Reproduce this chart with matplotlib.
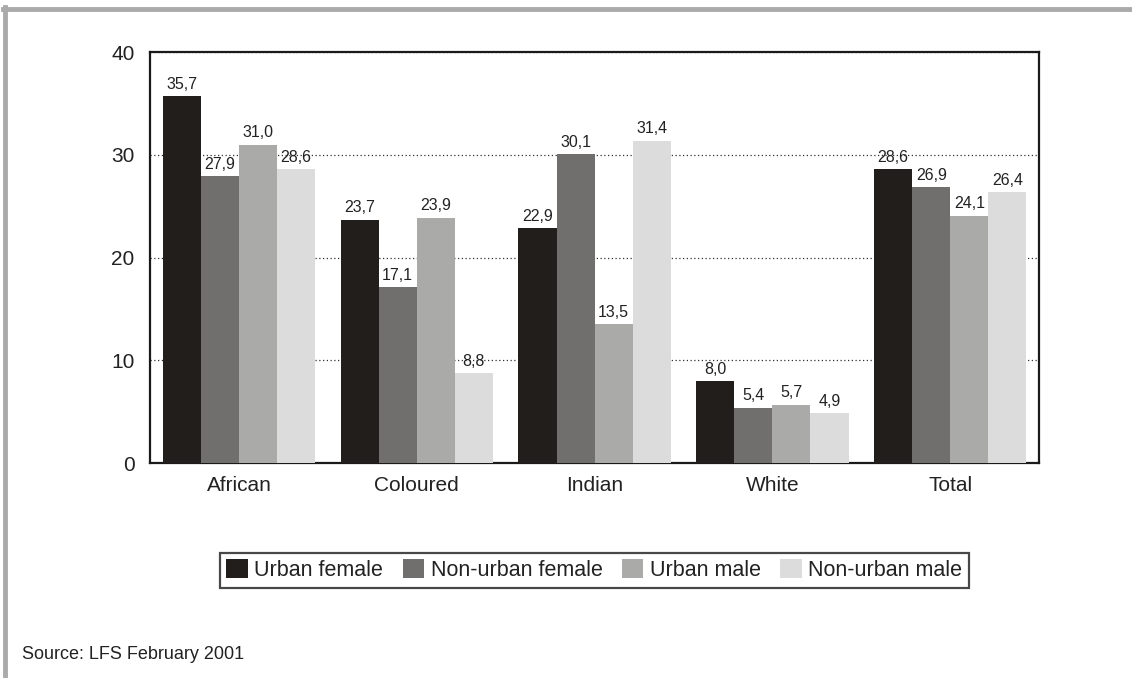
import matplotlib
matplotlib.use("Agg")
import matplotlib.pyplot as plt
from matplotlib.lines import Line2D
import numpy as np

plt.rcParams['font.family'] = ['Liberation Sans', 'DejaVu Sans']

categories = ["African", "Coloured", "Indian", "White", "Total"]
series_names = ["Urban female", "Non-urban female", "Urban male", "Non-urban male"]
urban_female = [35.7, 23.7, 22.9, 8.0, 28.6]
nonurban_female = [27.9, 17.1, 30.1, 5.4, 26.9]
urban_male = [31.0, 23.9, 13.5, 5.7, 24.1]
nonurban_male = [28.6, 8.8, 31.4, 4.9, 26.4]
y_ticks = [0, 10, 20, 30, 40]
source_note = "Source: LFS February 2001"

series = [urban_female, nonurban_female, urban_male, nonurban_male]
colors = ["#221e1c", "#706f6d", "#aaaaa9", "#dcdcdc"]

fig = plt.figure(figsize=(11.32, 6.78), dpi=100)
ax = fig.add_axes([0.1325, 0.317, 0.7855, 0.606])

x = np.arange(len(categories))
bw = 0.214
for i, (vals, col, name) in enumerate(zip(series, colors, series_names)):
    pos = x + (i - 1.5) * bw
    bars = ax.bar(pos, vals, width=bw, color=col, label=name, zorder=3)
    for b, v in zip(bars, vals):
        ax.annotate(f"{v:.1f}".replace(".", ","),
                    (b.get_x() + b.get_width() / 2, v),
                    xytext=(0, 3), textcoords="offset points",
                    ha="center", va="bottom", fontsize=11.5, color="#222222")

ax.set_xlim(-0.5, len(categories) - 0.5)
ax.set_ylim(0, 40)
ax.set_yticks(y_ticks)
ax.set_xticks(x)
ax.set_xticklabels(categories)
ax.tick_params(axis="both", length=0, labelsize=15, colors="#222222")
ax.tick_params(axis="y", pad=11)
ax.tick_params(axis="x", pad=9)
ax.yaxis.grid(True, linestyle=(0, (1, 2)), color="#333333", linewidth=0.9, zorder=0)
ax.set_axisbelow(True)
for s in ax.spines.values():
    s.set_linewidth(1.6)
    s.set_color("#1a1a1a")

leg = fig.legend(loc="center", bbox_to_anchor=(0.525, 0.159), ncol=4,
                 fontsize=15.5, frameon=True, fancybox=False,
                 handlelength=1.0, handleheight=1.0, handletextpad=0.3,
                 columnspacing=0.9, borderpad=0.3)
leg.get_frame().set_edgecolor("#1a1a1a")
leg.get_frame().set_linewidth(1.6)
for t in leg.get_texts():
    t.set_color("#222222")

fig.text(0.019, 0.034, source_note, fontsize=13, color="#222222", ha="left", va="center")

# outer frame lines along the top and left edges
H, W = 678.0, 1132.0
fig.add_artist(Line2D([3 / W, 1.0], [1 - 9 / H, 1 - 9 / H], color="#aaaaaa",
                      linewidth=3.5, transform=fig.transFigure))
fig.add_artist(Line2D([5 / W, 5 / W], [1 - 7 / H, 0.0], color="#aaaaaa",
                      linewidth=3.5, transform=fig.transFigure))

fig.savefig("out.png", dpi=100)
